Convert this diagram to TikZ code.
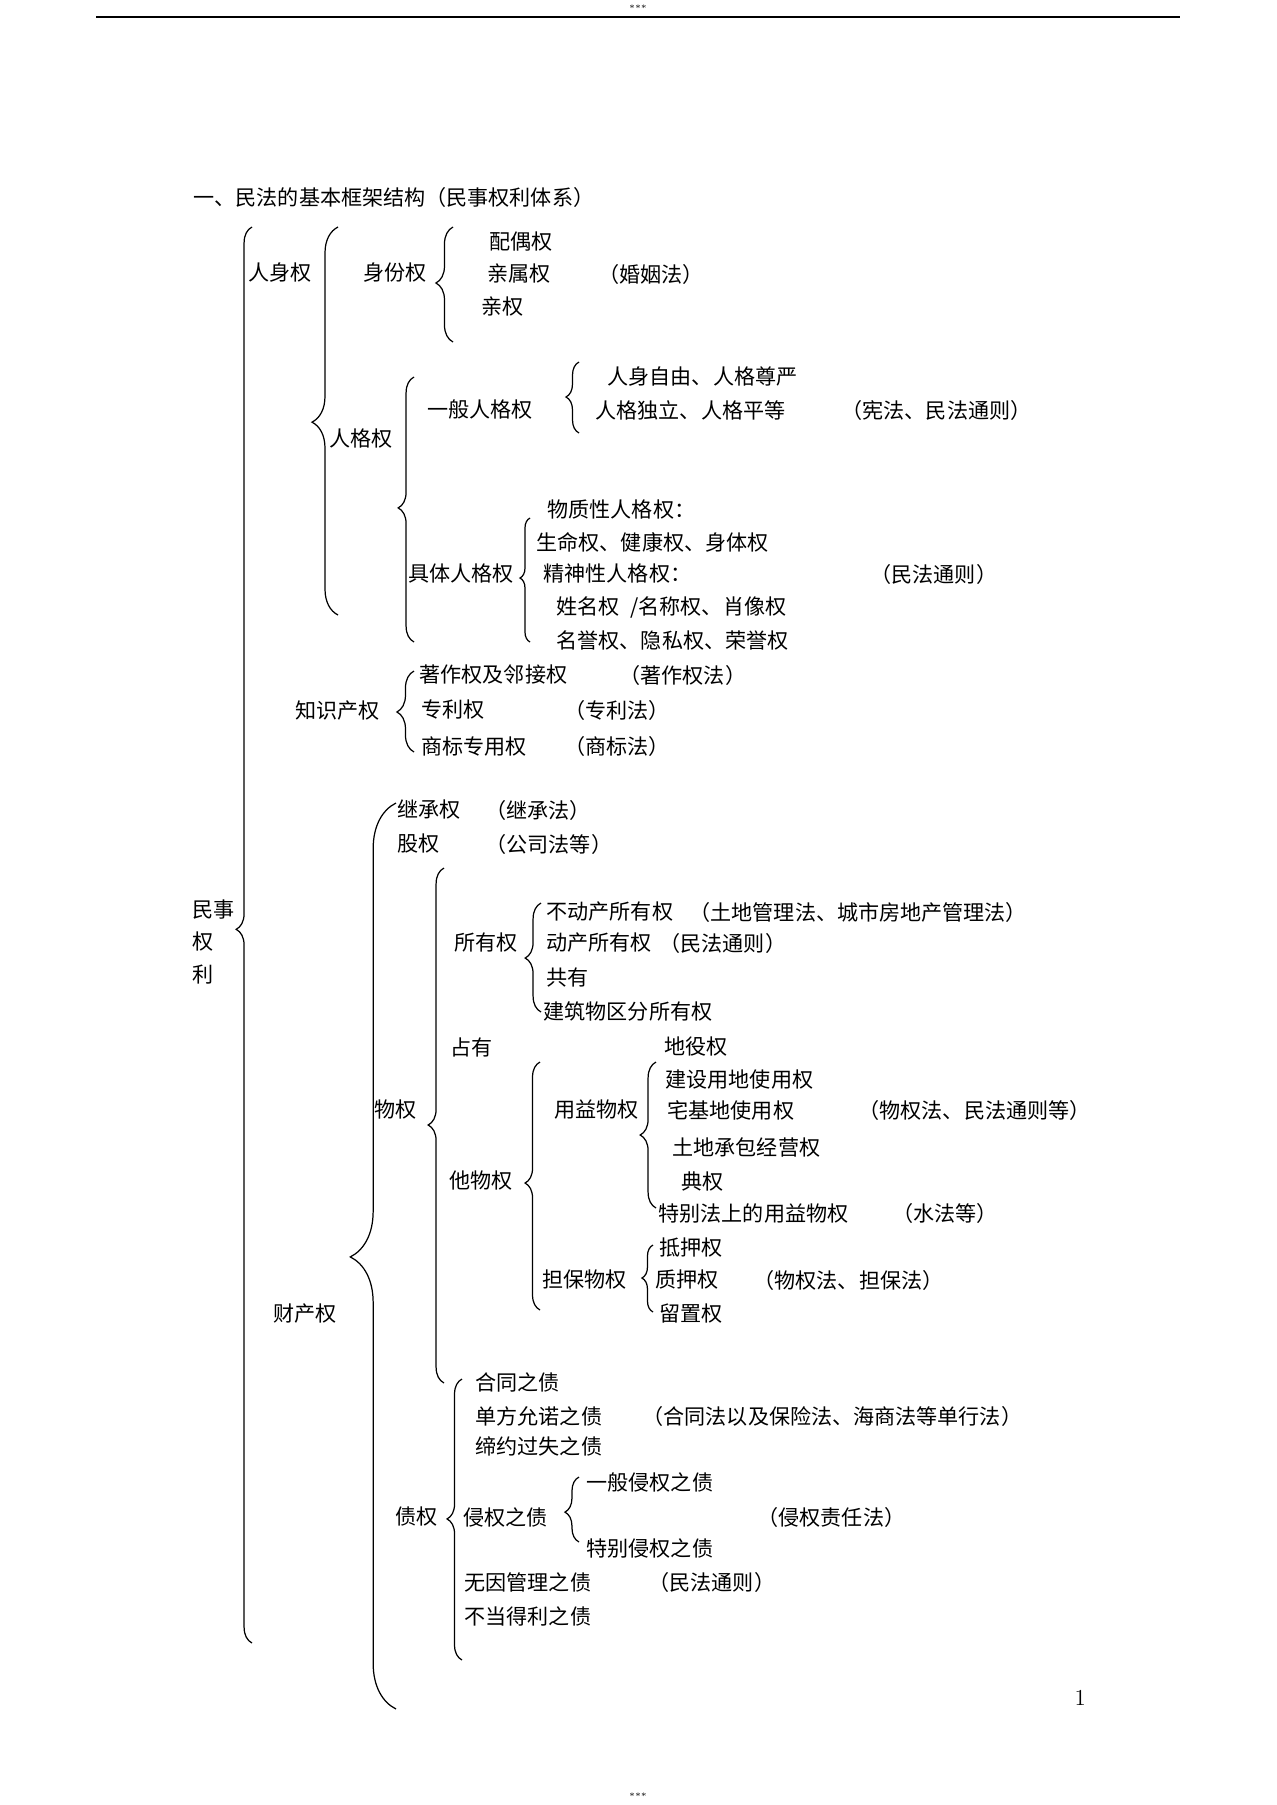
\documentclass[tikz,border=0pt]{standalone}
\usepackage{fontspec}
\usepackage{tikz}
\usetikzlibrary{decorations.pathreplacing}
\newfontfamily\cjk{Noto Sans CJK SC}
\tikzset{kuo/.style 2 args={decorate,decoration={brace,amplitude=#1,aspect=#2}}}

\begin{document}
\begin{tikzpicture}[x=0.02cm,y=-0.02cm,line width=0.7pt,
  every node/.style={anchor=west,inner sep=0pt,font=\cjk\fontsize{12}{14}\selectfont}]
\useasboundingbox (0,0) rectangle (1277,1805);
\node[anchor=center,font=\tiny] (xing1) at (638,8) {***};
\draw[line width=1pt] (96,17) -- (1180,17);
\node (biaoti) at (193,197) {一、民法的基本框架结构（民事权利体系）};
% 民事权利
\node (minshi1) at (192,910) {民事};
\node (minshi2) at (192,942) {权};
\node (minshi3) at (192,975) {利};
\draw[kuo={9pt}{0.504}] (252,1643) -- (252,227);
% 人身权
\node (renshen) at (248,273) {人身权};
\draw[kuo={14.8pt}{0.497}] (338,615) -- (338,227);
\node (shenfen) at (363,273) {身份权};
\draw[kuo={9.7pt}{0.513}] (453,342) -- (453,227);
\node (peiou) at (489,242) {配偶权};
\node (qinshu) at (487,274) {亲属权};
\node (qinquan) at (481,307) {亲权};
\node (hunyin) at (598,274) {（婚姻法）};
\node (renge) at (329,439) {人格权};
\draw[kuo={9pt}{0.506}] (414,642) -- (414,377);
\node (yiban) at (427,410) {一般人格权};
\draw[kuo={7.4pt}{0.507}] (579,433) -- (579,362);
\node (ziyou) at (607,377) {人身自由、人格尊严};
\node (duli) at (595,410) {人格独立、人格平等};
\node (xianfa) at (841,410) {（宪法、民法通则）};
\node (juti) at (408,574) {具体人格权};
\draw[kuo={5.7pt}{0.516}] (530,642) -- (530,518);
\node (wuzhi) at (547,510) {物质性人格权：};
\node (shengming) at (536,542) {生命权、健康权、身体权};
\node (jingshen) at (543,574) {精神性人格权：};
\node (tongze1) at (870,574) {（民法通则）};
\node (xingming) at (556,607) {姓名权\hspace{0.5em}/名称权、肖像权};
\node (mingyu) at (556,641) {名誉权、隐私权、荣誉权};
% 知识产权
\node (zhishi) at (295,711) {知识产权};
\draw[kuo={9.7pt}{0.494}] (414,752) -- (414,671);
\node (zhuzuo) at (419,675) {著作权及邻接权};
\node (zhuzuofa) at (619,675) {（著作权法）};
\node (zhuanli) at (421,710) {专利权};
\node (zhuanlifa) at (564,710) {（专利法）};
\node (shangbiao) at (421,746) {商标专用权};
\node (shangbiaofa) at (564,746) {（商标法）};
% 财产权
\node (caichan) at (273,1314) {财产权};
\draw[kuo={26pt}{0.499}] (396,1709) -- (396,803);
\node (jicheng) at (397,810) {继承权};
\node (jichengfa) at (485,810) {（继承法）};
\node (guquan) at (397,844) {股权};
\node (gongsifa) at (485,844) {（公司法等）};
\node (wuquan) at (374,1110) {物权};
\draw[kuo={9pt}{0.501}] (444,1383) -- (444,868);
\node (suoyou) at (454,943) {所有权};
\draw[kuo={9pt}{0.495}] (541,1012) -- (541,903);
\node (budongchan) at (546,912) {不动产所有权};
\node (tudifa) at (689,912) {（土地管理法、城市房地产管理法）};
\node (dongchan) at (546,943) {动产所有权};
\node (tongze2) at (659,943) {（民法通则）};
\node (gongyou) at (546,977) {共有};
\node (jianzhu) at (543,1011) {建筑物区分所有权};
\node (zhanyou) at (450,1047) {占有};
\node (tawuquan) at (449,1181) {他物权};
\draw[kuo={8.5pt}{0.512}] (540,1310) -- (540,1062);
\node (yongyi) at (554,1110) {用益物权};
\draw[kuo={9pt}{0.5}] (656,1208) -- (656,1062);
\node (diyi) at (664,1047) {地役权};
\node (jianshe) at (665,1080) {建设用地使用权};
\node (zhaiji) at (667,1110) {宅基地使用权};
\node (wuquanfa) at (858,1110) {（物权法、民法通则等）};
\node (chengbao) at (672,1147) {土地承包经营权};
\node (dianquan) at (681,1181) {典权};
\node (tebie) at (658,1213) {特别法上的用益物权};
\node (shuifa) at (892,1213) {（水法等）};
\node (danbao) at (542,1280) {担保物权};
\draw[kuo={6.3pt}{0.507}] (653,1312) -- (653,1245);
\node (diya) at (659,1248) {抵押权};
\node (zhiya) at (655,1280) {质押权};
\node (danbaofa) at (753,1280) {（物权法、担保法）};
\node (liuzhi) at (659,1314) {留置权};
% 债权
\node (zhaiquan) at (395,1517) {债权};
\draw[kuo={8.5pt}{0.502}] (462,1660) -- (462,1379);
\node (hetong) at (475,1382) {合同之债};
\node (danfang) at (475,1416) {单方允诺之债};
\node (hetongfa) at (642,1416) {（合同法以及保险法、海商法等单行法）};
\node (diyue) at (475,1446) {缔约过失之债};
\node (qinquanzhai) at (463,1517) {侵权之债};
\draw[kuo={8pt}{0.46}] (579,1542) -- (579,1477);
\node (yibanqin) at (586,1482) {一般侵权之债};
\node (qinquanfa) at (757,1517) {（侵权责任法）};
\node (tebieqin) at (586,1548) {特别侵权之债};
\node (wuyin) at (464,1582) {无因管理之债};
\node (tongze3) at (648,1582) {（民法通则）};
\node (budang) at (464,1616) {不当得利之债};
\node[font=\fontsize{13}{15}\selectfont] (yema) at (1074,1698) {1};
\node[anchor=center,font=\tiny] (xing2) at (638,1796) {***};
\end{tikzpicture}
\end{document}
